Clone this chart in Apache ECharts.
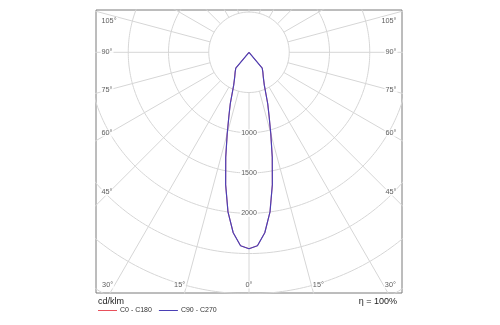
<!DOCTYPE html>
<html>
<head>
<meta charset="utf-8">
<script src="https://cdn.jsdelivr.net/npm/echarts@6/dist/echarts.min.js"></script>
<style>html,body{margin:0;padding:0;background:#fff;}#c{width:500px;height:325px;}</style>
</head>
<body>
<div id="c"></div>
<script>
// ---- data (cd/klm) ----
const gammaAngles      = [0, 2.5, 5, 7.5, 10, 12.5, 15, 17.5, 20, 25, 30, 35, 40, 45, 90, 135, 180];
const intensityC0C180  = [2440, 2405, 2250, 2000, 1670, 1335, 1045, 830, 680, 450, 355, 300, 255, 0, 0, 0, 0];
const intensityC90C270 = [2440, 2405, 2250, 2000, 1670, 1335, 1045, 830, 680, 450, 355, 300, 255, 0, 0, 0, 0];
const ringValues       = [500, 1000, 1500, 2000, 2500, 3000, 3500];
const ringLabelValues  = [1000, 1500, 2000];
const radialAngles     = [0, 15, 30, 45, 60, 75, 90, 105, 120, 135, 150, 165, 180];
const sideLabelAngles  = [45, 60, 75, 90, 105];
const bottomLabelAngles = [0, 15, 30];
const seriesNames      = ['C0 - C180', 'C90 - C270'];
const unitText = 'cd/klm';
const effText = 'η = 100%';

// ---- layout ----
const FONT = 'Liberation Sans, Arial, sans-serif';
const k = 1000 / 80.5;            // cd per pixel
const gridLeft = 96, gridTop = 10, gridW = 306, gridH = 283;
const cxPx = 153, cyPx = 42.3;    // polar centre inside grid
const xMin = -cxPx * k, xMax = (gridW - cxPx) * k;
const yMax = cyPx * k, yMin = -(gridH - cyPx) * k;
const rad = d => d * Math.PI / 180;
const toXY = (g, I, side) => [side * I * Math.sin(rad(g)), -I * Math.cos(rad(g))];

const gridColor = '#d6d6d6';
const series = [];

// rings
ringValues.forEach(r => {
  const pts = [];
  for (let a = 0; a <= 360; a += 1) pts.push([r * Math.sin(rad(a)), -r * Math.cos(rad(a))]);
  series.push({type: 'line', data: pts, showSymbol: false, silent: true, clip: true, z: 1,
    lineStyle: {color: gridColor, width: 1}, animation: false});
});
// radial lines, from the first ring outwards, both sides
radialAngles.forEach(a => {
  [1, -1].forEach(side => {
    if ((a === 0 || a === 180) && side === -1) return;
    series.push({type: 'line', data: [toXY(a, ringValues[0], side), toXY(a, 8000, side)],
      showSymbol: false, silent: true, clip: true, z: 1,
      lineStyle: {color: gridColor, width: 1}, animation: false});
  });
});

// curves
function curvePoints(vals) {
  const pts = [];
  for (let i = gammaAngles.length - 1; i >= 0; i--) pts.push(toXY(gammaAngles[i], vals[i], -1));
  for (let i = 1; i < gammaAngles.length; i++) pts.push(toXY(gammaAngles[i], vals[i], 1));
  return pts;
}
series.push({name: seriesNames[0], type: 'line', data: curvePoints(intensityC0C180), showSymbol: false,
  lineStyle: {color: '#e8505b', width: 0.8}, itemStyle: {color: '#e8505b'}, z: 5, animation: false});
series.push({name: seriesNames[1], type: 'line', data: curvePoints(intensityC90C270), showSymbol: false,
  lineStyle: {color: '#4a3fb5', width: 1.2}, itemStyle: {color: '#4a3fb5'}, z: 6, animation: false});

// ring value labels
const labelStyle = {show: true, fontFamily: FONT, color: '#333', backgroundColor: '#fff', padding: [0, 1]};
series.push({type: 'scatter', silent: true, z: 8, symbolSize: 1, itemStyle: {color: 'rgba(0,0,0,0)'},
  data: ringLabelValues.map(v => ({value: [0, -v], label: {formatter: String(v)}})),
  label: Object.assign({}, labelStyle, {position: 'inside', fontSize: 7}), animation: false});

// angle labels on the frame
const sideX = (cxPx - 4) * k, rayX = 140 * k, topClamp = yMax - 10.5 * k;
const angleData = [];
sideLabelAngles.forEach(a => {
  let y = -rayX * Math.cos(rad(a)) / Math.sin(rad(a));
  y = Math.min(y, topClamp);
  angleData.push({value: [-sideX, y], label: {formatter: a + '°', position: 'right', distance: 0}});
  angleData.push({value: [sideX, y], label: {formatter: a + '°', position: 'left', distance: 0}});
});
const botY = yMin + 8 * k;
bottomLabelAngles.forEach(a => {
  const x = -botY * Math.tan(rad(a));
  if (a === 0) {
    angleData.push({value: [0, botY], label: {formatter: a + '°', position: 'inside'}});
  } else {
    angleData.push({value: [-x, botY], label: {formatter: a + '°', position: 'left', distance: 0}});
    angleData.push({value: [x, botY], label: {formatter: a + '°', position: 'right', distance: 0}});
  }
});
series.push({type: 'scatter', silent: true, z: 8, symbolSize: 1, itemStyle: {color: 'rgba(0,0,0,0)'},
  data: angleData, label: Object.assign({}, labelStyle, {fontSize: 7.3}), animation: false});

const chart = echarts.init(document.getElementById('c'), null, {renderer: 'canvas'});
chart.setOption({
  animation: false,
  backgroundColor: '#fff',
  title: [
    {text: unitText, left: 98, top: 297, padding: 0,
      textStyle: {fontFamily: FONT, fontSize: 9, fontWeight: 'normal', color: '#222'}},
    {text: effText, right: 103, top: 297, padding: 0,
      textStyle: {fontFamily: FONT, fontSize: 9, fontWeight: 'normal', color: '#222'}}
  ],
  legend: {data: seriesNames, left: 98, top: 307, padding: 0, icon: 'rect', itemWidth: 19, itemHeight: 1,
    itemGap: 7, textStyle: {fontFamily: FONT, fontSize: 7, color: '#333', padding: [0, 0, 0, -2]}, selectedMode: false},
  grid: {left: gridLeft, top: gridTop, width: gridW, height: gridH, show: true,
    borderColor: '#7a7a7a', borderWidth: 1, backgroundColor: 'transparent'},
  xAxis: {type: 'value', min: xMin, max: xMax, show: false},
  yAxis: {type: 'value', min: yMin, max: yMax, show: false},
  series: series
});
</script>
</body>
</html>
